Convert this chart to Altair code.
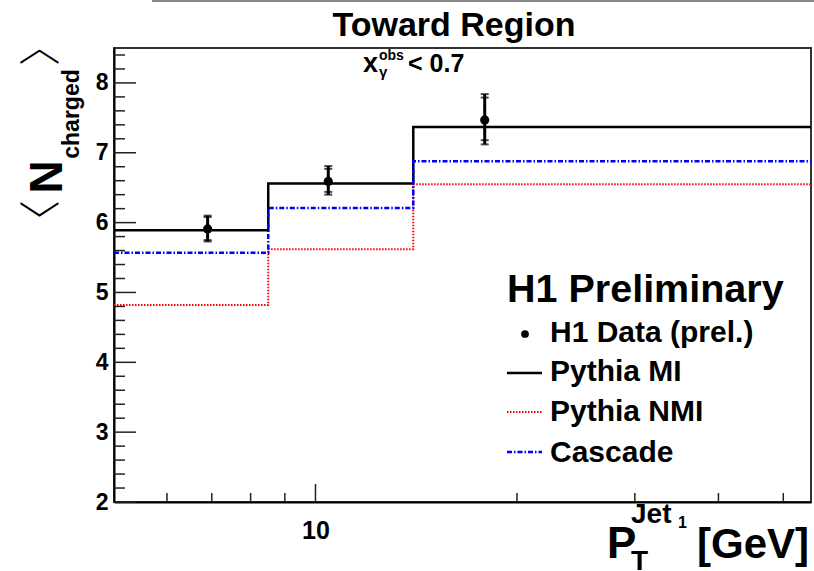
import altair as alt
import pandas as pd

# ---- data -----------------------------------------------------------------
bin_edges = [5, 8.5, 14, 55]                 # P_T^Jet1 bin edges [GeV]
pythia_mi = [5.89, 6.56, 7.37]
pythia_nmi = [4.82, 5.62, 6.55]
cascade = [5.57, 6.21, 6.88]

data_pt = [6.9, 10.45, 17.9]
data_n = [5.91, 6.59, 7.47]
stat_lo = [5.75, 6.44, 7.18]
stat_hi = [6.08, 6.77, 7.79]
tot_lo = [5.73, 6.40, 7.12]
tot_hi = [6.10, 6.81, 7.84]

y_major = [2, 3, 4, 5, 6, 7, 8]
y_minor = [2.2, 2.4, 2.6, 2.8, 3.2, 3.4, 3.6, 3.8, 4.2, 4.4, 4.6, 4.8,
           5.2, 5.4, 5.6, 5.8, 6.2, 6.4, 6.6, 6.8, 7.2, 7.4, 7.6, 7.8,
           8.2, 8.4]
x_major = [10]
x_minor = [6, 7, 8, 9, 20, 30, 40, 50]

W, H = 697, 454
FONT = "Liberation Sans"

xs = alt.Scale(type="log", domain=[5, 55], nice=False)
ys = alt.Scale(domain=[2, 8.5], nice=False, zero=False)

x_axis = alt.Axis(values=x_major, ticks=False, grid=False, title=None,
                  labelFont=FONT, labelFontSize=25, labelFontWeight="bold",
                  labelColor="black", labelPadding=16, format="d",
                  domainColor="black", domainWidth=2)
y_axis = alt.Axis(values=y_major, ticks=False, grid=False, title=None,
                  labelFont=FONT, labelFontSize=23, labelFontWeight="bold",
                  labelColor="black", labelPadding=6, format="d",
                  domainColor="black", domainWidth=2)


def step_layer(vals, color, dash, width):
    df = pd.DataFrame({"pt": bin_edges, "n": vals + [vals[-1]]})
    mark = dict(interpolate="step-after", color=color, strokeWidth=width, clip=True)
    if dash:
        mark["strokeDash"] = dash
    return alt.Chart(df).mark_line(**mark).encode(
        x=alt.X("pt:Q", scale=xs, axis=x_axis),
        y=alt.Y("n:Q", scale=ys, axis=y_axis),
    )


mi = step_layer(pythia_mi, "black", None, 2.5)
nmi = step_layer(pythia_nmi, "#ff0000", [1.5, 1.5], 2)
casc = step_layer(cascade, "#0000ff", [5, 2, 1.5, 2], 2.5)

pts = pd.DataFrame({"pt": data_pt, "n": data_n, "slo": stat_lo, "shi": stat_hi,
                    "tlo": tot_lo, "thi": tot_hi})
base = alt.Chart(pts)
err = base.mark_rule(color="black", strokeWidth=3).encode(
    x=alt.X("pt:Q", scale=xs), y=alt.Y("tlo:Q", scale=ys), y2="thi:Q")
caps = alt.layer(*[
    base.mark_tick(color="black", orient="horizontal", size=8, thickness=2).encode(
        x=alt.X("pt:Q", scale=xs), y=alt.Y(f"{c}:Q", scale=ys))
    for c in ["slo", "shi", "tlo", "thi"]
])
dots = base.mark_point(filled=True, shape="circle", size=85, color="black", opacity=1).encode(
    x=alt.X("pt:Q", scale=xs), y=alt.Y("n:Q", scale=ys))

# inward ticks on the left and bottom axes
ymaj = alt.Chart(pd.DataFrame({"v": y_major})).mark_rule(color="#222", strokeWidth=1.5).encode(
    y=alt.Y("v:Q", scale=ys), x=alt.value(0), x2=alt.value(22))
ymin = alt.Chart(pd.DataFrame({"v": y_minor})).mark_rule(color="#222", strokeWidth=1.5).encode(
    y=alt.Y("v:Q", scale=ys), x=alt.value(0), x2=alt.value(11))
xmaj = alt.Chart(pd.DataFrame({"v": x_major})).mark_rule(color="#222", strokeWidth=1.5).encode(
    x=alt.X("v:Q", scale=xs), y=alt.value(H), y2=alt.value(H - 18))
xmin = alt.Chart(pd.DataFrame({"v": x_minor})).mark_rule(color="#222", strokeWidth=1.5).encode(
    x=alt.X("v:Q", scale=xs), y=alt.value(H), y2=alt.value(H - 9))


def label(text, x, y, size, angle=0, align="left", baseline="alphabetic",
          weight="bold", font=FONT, color="black"):
    kw = dict(align=align, baseline=baseline, fontSize=size, fontWeight=weight,
              font=font, color=color)
    if angle:
        kw["angle"] = angle
    return alt.Chart(pd.DataFrame({"t": [text]})).mark_text(**kw).encode(
        text="t:N", x=alt.value(x), y=alt.value(y))


BRACKET_FONT = "Noto Sans CJK SC"
texts = [
    label("Toward Region", 340, -12, 34, align="center"),
    label("x", 249, 24, 27),
    label("obs", 265, 12, 14),
    label("γ", 265, 29, 15),
    label("< 0.7", 294, 24, 25),
    # y title: <N_charged>
    label("N", -52, 129, 46, angle=270, align="center"),
    label("charged", -35, 66, 23, angle=270, align="center"),
    label("\u3008", -72, 173, 42, angle=270, align="center", baseline="middle",
          weight=300, font=BRACKET_FONT),
    label("\u3009", -72, -3, 42, angle=270, align="center", baseline="middle",
          weight=300, font=BRACKET_FONT),
    # x title: P_T^{Jet_1} [GeV]
    label("P", 493, 510, 44),
    label("T", 517, 522, 28),
    label("Jet", 517, 475, 28),
    label("1", 564, 480, 16),
    label("[GeV]", 583, 510, 42),
    # legend
    label("H1 Preliminary", 393, 254, 39.5),
    label("H1 Data (prel.)", 436, 294, 30),
    label("Pythia MI", 436, 333, 30),
    label("Pythia NMI", 436, 373, 30),
    label("Cascade", 436, 414, 30),
]

one = pd.DataFrame({"k": [0]})
leg_dot = alt.Chart(one).mark_point(filled=True, shape="circle", size=60,
                                    color="black", opacity=1).encode(
    x=alt.value(411), y=alt.value(286))
leg_mi = alt.Chart(one).mark_rule(color="black", strokeWidth=2.5).encode(
    x=alt.value(393), x2=alt.value(428), y=alt.value(325))
leg_nmi = alt.Chart(one).mark_rule(color="#ff0000", strokeWidth=2,
                                   strokeDash=[1.5, 1.5]).encode(
    x=alt.value(393), x2=alt.value(428), y=alt.value(364))
leg_casc = alt.Chart(one).mark_rule(color="#0000ff", strokeWidth=2.5,
                                    strokeDash=[5, 2, 1.5, 2]).encode(
    x=alt.value(393), x2=alt.value(428), y=alt.value(404))
title_box = alt.Chart(one).mark_rule(color="#888", strokeWidth=2).encode(
    x=alt.value(38), x2=alt.value(700), y=alt.value(-47))

chart = alt.layer(
    mi, nmi, casc, ymaj, ymin, xmaj, xmin, err, caps, dots,
    leg_dot, leg_mi, leg_nmi, leg_casc, title_box, *texts,
).properties(
    width=W, height=H,
    padding={"left": 114, "top": 48, "right": 3, "bottom": 69},
    autosize=alt.AutoSizeParams(type="none"),
    background="white",
).configure_view(stroke="#333", strokeWidth=2)

chart.save("out.html", embed_options={"renderer": "svg", "actions": False})
